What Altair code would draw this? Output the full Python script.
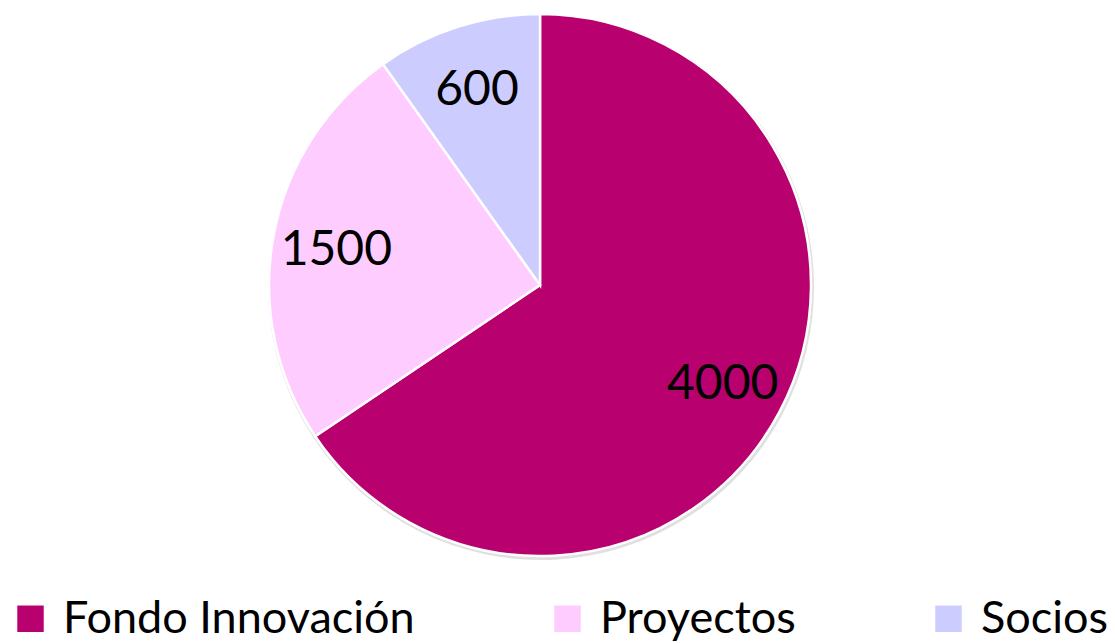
import altair as alt
import pandas as pd

categories = ["Fondo Innovación", "Proyectos", "Socios"]
values = [4000, 1500, 600]
colors = ["#B8006F", "#FFCCFF", "#CCCCFF"]

df = pd.DataFrame({"cat": categories, "val": values, "ord": [0, 1, 2]})

color_scale = alt.Scale(domain=categories, range=colors)
theta = alt.Theta("val:Q", stack=True)

base = alt.Chart(df).encode(
    theta=theta,
    order=alt.Order("ord:Q"),
    x=alt.value(540),
    y=alt.value(285),
)

shadow = base.mark_arc(radius=273, color="#d8d8d8", opacity=0.8).encode(
    x=alt.value(541), y=alt.value(287)
)

arcs = base.mark_arc(radius=271, stroke="white", strokeWidth=2.5).encode(
    color=alt.Color(
        "cat:N",
        scale=color_scale,
        sort=categories,
        legend=alt.Legend(
            title=None,
            orient="none",
            legendX=8,
            legendY=596,
            padding=0,
            direction="horizontal",
            symbolType="square",
            symbolSize=700,
            symbolStrokeWidth=0,
            labelFont="Lato",
            labelFontSize=45,
            labelColor="black",
            labelLimit=500,
            columnPadding=130,
            symbolOffset=0,
            labelOffset=10,
        ),
    )
)

labels = base.mark_text(radius=207, font="Lato", fontSize=48, color="black", dy=3).encode(
    text=alt.Text("val:Q")
)

chart = (
    alt.layer(shadow, arcs, labels)
    .properties(width=1115, height=643, autosize=alt.AutoSizeParams(type="none"), padding=0)
    .configure_view(stroke=None)
)

chart.save("out.html", embed_options={"renderer": "svg", "actions": False})
